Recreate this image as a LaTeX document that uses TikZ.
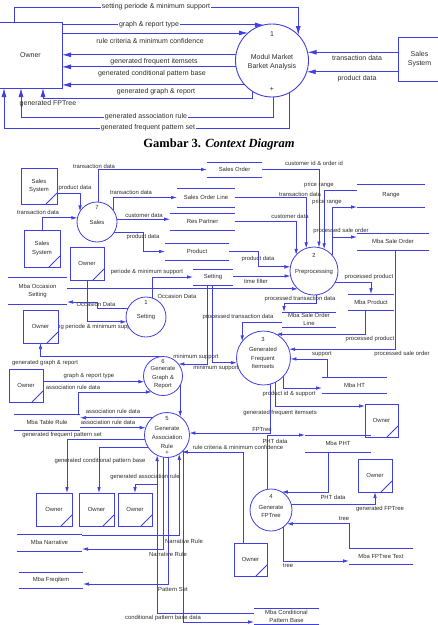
\documentclass[tikz,border=0pt]{standalone}
\usepackage{fontspec}
\setmainfont{Liberation Sans}
\newfontfamily\capfont{Liberation Serif}
\usetikzlibrary{arrows.meta,calc}
\definecolor{dblue}{RGB}{64,64,224}
\definecolor{txt}{RGB}{45,45,45}
\pgfdeclarelayer{bg}
\pgfdeclarelayer{fg}
\pgfsetlayers{bg,main,fg}
\tikzset{
  ln/.style={draw=dblue,line width=0.75pt},
  arr/.style={ln,-{Latex[length=6pt,width=3.6pt]}},
  lnT/.style={draw=dblue,line width=0.9pt},
  arrT/.style={lnT,-{Latex[length=9pt,width=5pt]}},
  fs/.style={font=\fontsize{5.9}{8.5}\selectfont,text=txt},
  fT/.style={font=\fontsize{7}{9}\selectfont,text=txt},
  lbl/.style={fs,inner sep=0pt},
  lblT/.style={fT,inner sep=1pt,fill=white},
  lblTn/.style={fT,inner sep=0pt},
  proc/.style={circle,draw=dblue,line width=0.8pt,fill=white,inner sep=0pt,outer sep=0pt},
  ptxt/.style={fs,align=center,inner sep=0pt},
  boxT/.style={rectangle,draw=dblue,line width=0.9pt,fill=white,fT,align=center,inner sep=0pt,outer sep=0pt},
  ent/.style={rectangle,draw=dblue,line width=0.8pt,fill=white,inner sep=0pt,outer sep=0pt,fs,align=center,
    path picture={\draw[dblue,line width=0.8pt] ([xshift=-11pt]path picture bounding box.south east) -- ([yshift=11pt]path picture bounding box.south east);}},
  store/.style={inner sep=0pt,outer sep=0pt,fs,align=center},
}
\begin{document}
\begin{tikzpicture}[x=1pt,y=-1pt]
\useasboundingbox (0,0) rectangle (438,625);
% ================= TOP DIAGRAM =================
\node[boxT,minimum width=63pt,minimum height=66pt] (owner0) at (30.5,55) {Owner};
\node[proc,line width=0.9pt,minimum size=73pt] (mod) at (272,60.5) {};
\node[lblTn] (modn) at (272,34) {1};
\node[fT,align=center,inner sep=0pt] (modt) at (272,62) {Modul Market\\Barket Analysis};
\node[lblTn] (modp) at (272,89) {+};
\node[boxT,minimum width=43pt,minimum height=44pt] (sales0) at (419.5,59) {Sales\\System};
\begin{pgfonlayer}{bg}
\draw[arrT] ([xshift=-16.5pt]owner0.north) |- (mod.44.6 |- 0,7) -- (mod.44.6);
\draw[arrT] (owner0.east |- mod.103.4) -- (mod.103.4);
\draw[arrT] (owner0.east |- mod.131.1) -- (mod.131.1);
\draw[arrT] (mod.171.3) -- (owner0.east |- mod.171.3);
\draw[arrT] (mod.190.3) -- (owner0.east |- mod.190.3);
\draw[arrT] (mod.222.2) -- (owner0.east |- mod.222.2);
\draw[arrT] (mod.238) -- (mod.238 |- 0,98) -| (owner0.south -| 43,0);
\draw[arrT] (mod.-88) -- (mod.-88 |- 0,117) -| (owner0.south -| 21,0);
\draw[arrT] (mod.-62.2) -- (mod.-62.2 |- 0,128) -| (owner0.south -| 4,0);
\draw[arrT] (sales0.west |- mod.13.5) -- (mod.13.5);
\draw[arrT] (sales0.west |- mod.-18.4) -- (mod.-18.4);
\end{pgfonlayer}
\begin{pgfonlayer}{fg}
\node[lblT] (T1) at (156,7) {setting periode \& minimum support};
\node[lblT] (T2) at (149,25) {graph \& report type};
\node[lblTn] (T3) at (150,41) {rule criteria \& minimum confidence};
\node[lblTn] (T4) at (154,62) {generated frequent itemsets};
\node[lblTn] (T5) at (152,74) {generated conditional pattern base};
\node[lblTn] (T6) at (156,92) {generated graph \& report};
\node[lblTn] (T7) at (48,104) {generated FPTree};
\node[lblT] (T8) at (146,117) {generated association rule};
\node[lblT] (T9) at (148,128) {generated frequent pattern set};
\node[lblTn] (T10) at (357,58) {transaction data};
\node[lblTn] (T11) at (357,79) {product data};
\end{pgfonlayer}
\node[font=\capfont\fontsize{12.5}{14}\selectfont\bfseries,text=black,inner sep=0pt] (cap) at (219,144) {Gambar 3. \textit{Context Diagram}};
% ================= LOWER DIAGRAM =================
% processes
\node[proc,minimum size=40pt] (c7) at (97,222) {};
\node[ptxt] (c7n) at (97,207) {7};
\node[ptxt] (c7t) at (97,222) {Sales};
\node[proc,minimum size=48pt] (c2) at (314,271) {};
\node[ptxt] (c2n) at (314,255) {2};
\node[ptxt] (c2t) at (314,272) {Preprocessing};
\node[proc,minimum size=40pt] (c1) at (146,317) {};
\node[ptxt] (c1n) at (146,302) {1};
\node[ptxt] (c1t) at (146,317) {Setting};
\node[proc,minimum size=39pt] (c6) at (163,376) {};
\node[ptxt] (c6n) at (163,361) {6};
\node[ptxt] (c6t) at (163,378) {Generate\\Graph \&\\Report};
\node[proc,minimum size=54pt] (c3) at (263.5,358) {};
\node[ptxt] (c3n) at (263,339) {3};
\node[ptxt] (c3t) at (263,358) {Generated\\Frequent\\Itemsets};
\node[proc,minimum size=45pt] (c5) at (167,435) {};
\node[ptxt] (c5n) at (167,418) {5};
\node[ptxt,font=\fontsize{5.9}{9}\selectfont] (c5t) at (167,437) {Generate\\Association\\Rule};
\node[ptxt] (c5p) at (167,453) {+};
\node[proc,minimum size=42pt] (c4) at (271,510) {};
\node[ptxt] (c4n) at (271,496) {4};
\node[ptxt,font=\fontsize{5.9}{8}\selectfont] (c4t) at (271,511) {Generate\\FPTree};
% external entities
\node[ent,minimum width=36pt,minimum height=36pt] (ssA) at (39,186) {Sales\\System};
\node[ent,minimum width=36pt,minimum height=37pt] (ssB) at (42,248.5) {Sales\\System};
\node[ent,minimum width=34pt,minimum height=33pt] (ownA) at (87,263.5) {Owner};
\node[ent,minimum width=35pt,minimum height=33pt] (ownB) at (40.5,326.5) {Owner};
\node[ent,minimum width=34pt,minimum height=33pt] (ownC) at (26,385.5) {Owner};
\node[ent,minimum width=33pt,minimum height=33pt] (ownD) at (381.5,420.5) {Owner};
\node[ent,minimum width=34pt,minimum height=33pt] (ownE) at (375,475.5) {Owner};
\node[ent,minimum width=33pt,minimum height=33pt] (ownF) at (250.5,559.5) {Owner};
\node[ent,minimum width=36pt,minimum height=33pt] (ownG1) at (54,509.5) {Owner};
\node[ent,minimum width=35pt,minimum height=33pt] (ownG2) at (96.5,509.5) {Owner};
\node[ent,minimum width=34pt,minimum height=33pt] (ownG3) at (135,509.5) {Owner};
% data stores
\node[store,minimum width=55pt,minimum height=15pt] (sOrder) at (234.5,169.5) {Sales Order};
\node[store,minimum width=58pt,minimum height=19pt] (sOrderLine) at (206,197.5) {Sales Order Line};
\node[store,minimum width=65pt,minimum height=17pt] (sRes) at (202.5,221.5) {Res Partner};
\node[store,minimum width=64pt,minimum height=17pt] (sProduct) at (197,251.5) {Product};
\node[store,minimum width=40pt,minimum height=16pt] (sSetting) at (213,277) {Setting};
\node[store,minimum width=59pt,minimum height=27pt,font=\fontsize{5.9}{8}\selectfont] (sOcc) at (37.5,290.5) {Mba Occasion\\Setting};
\node[store,minimum width=68pt,minimum height=23pt] (sRange) at (391,195.5) {Range};
\node[store,minimum width=72pt,minimum height=17pt] (sMbaSO) at (393,241.5) {Mba Sale Order};
\node[store,minimum width=46pt,minimum height=16pt] (sMbaProd) at (371,302) {Mba Product};
\node[store,minimum width=54pt,minimum height=15pt,font=\fontsize{5.9}{7.5}\selectfont] (sMbaSOL) at (309,319.5) {Mba Sale Order\\Line};
\node[store,minimum width=65pt,minimum height=16pt] (sHT) at (354.5,385) {Mba HT};
\node[store,minimum width=66pt,minimum height=17pt] (sPHT) at (338,443.5) {Mba PHT};
\node[store,minimum width=64pt,minimum height=16pt] (sFPT) at (381,556) {Mba FPTree Text};
\node[store,minimum width=65pt,minimum height=16pt,font=\fontsize{5.9}{8}\selectfont] (sCond) at (286.5,616) {Mba Conditional\\Pattern Base};
\node[store,minimum width=66pt,minimum height=16pt] (sTable) at (47,422) {Mba Table Rule};
\node[store,minimum width=65pt,minimum height=17pt] (sNarr) at (49.5,542.5) {Mba Narrative};
\node[store,minimum width=64pt,minimum height=16pt] (sFreq) at (51,580) {Mba Freqitem};
\foreach \s in {sOrder,sOrderLine,sRes,sProduct,sSetting,sOcc,sRange,sMbaSO,sMbaProd,sMbaSOL,sHT,sPHT,sFPT,sCond,sTable,sNarr,sFreq}
  \draw[ln] (\s.north west) -- (\s.north east) (\s.south west) -- (\s.south east);
% connectors
\begin{pgfonlayer}{bg}
\draw[arr] (ssA.east |- 0,193) -| (c7.148.2);
\draw[arr] (ssB.north) |- (c7.168.5);
\draw[arr] (c7.87) |- (sOrder.west);
\draw[arr] (c7.36.9) |- (sOrderLine.west);
\draw[arr] (c7.8.6) -- (sRes.west |- c7.8.6);
\draw[arr] (c7.-30) -- ($(sProduct.west |- c7.-30)+(-22,0)$) |- (sProduct.west);
\draw[arr] (sOrder.east) -| (c2.78);
\draw[arr] (sOrderLine.east) -| (c2.109.5);
\draw[arr] (sRes.east) -| (c2.138.6);
\draw[arr] (sRange.west |- 0,190) -| (c2.65.4);
\draw[arr] (c2.41.4) |- (sRange.south west);
\draw[arr] (c2.41.4) |- (sMbaSO.west |- 0,237);
\draw[arr] (sProduct.east) -- ++(29,0) |- (c2.170.4);
\draw[arr] (sSetting.east |- c2.192) -- (c2.192);
\draw[arr] (sOcc.east |- c2.228.6) -- (c2.228.6);
\draw[arr] (c2.-27.3) -| (sMbaProd.north);
\draw[arr] (c2.-85) -- (c2.-85 |- 0,303) -| ([xshift=2pt]sMbaSOL.north west);
\draw[arr] (ownA.south) |- (c1.194.5);
\draw[arr] (c1.72.5) |- (sSetting.west);
\draw[arr] (c1.153.3) -- (c1.153.3 -| 97,0) |- (sOcc.east |- 0,302);
\draw[arr] (c6.north) -| (ownB.south);
\draw[arr] (ownC.east |- c6.197.9) -- (c6.197.9);
\draw[arr] ([xshift=-2pt]sTable.north east) |- (c6.235.1);
\draw[arr] (sSetting.south -| 207,0) |- (c6.38);
\draw[arr] (sSetting.south -| 212,0) |- (c3.190.7);
\draw[arr] (c5.54.7 |- c6.-29.3) -- (c5.54.7);
\draw[arr] (sMbaSOL.west |- 0,322) -| (c3.142.8);
\draw[arr] (sMbaProd.south -| 365,0) |- (c3.62.7);
\draw[arr] (sMbaSO.south -| 395,0) |- (c3.19.5);
\draw[arr] (sHT.north -| 327,0) |- (c3.-2.1);
\draw[arr] (c3.-43.8) |- (sHT.west |- 0,388);
\draw[arr] (c3.-64.8) |- (ownD.west |- 0,406);
\draw[arr] (c3.-76.1) |- (c5.5.1);
\draw[arr] (c4.101) |- (sPHT.north west);
\draw[arr] (sPHT.south -| 328,0) |- (c4.59);
\draw[arr] (c4.16.6) -| (ownE.south);
\draw[arr] (sFPT.north west) |- (c4.-41.8);
\draw[arr] (c4.-55.2) |- (sFPT.west |- 0,561);
\draw[arr] (ownF.north -| 243,0) |- (c5.-49.1);
\draw[arr] (c5.130.9) -- (sTable.east |- c5.130.9);
\draw[arr] (sTable.east |- c5.161.9) -- (c5.161.9);
\draw[arr] (c5.192.8) -| (ownG1.north -| 67,0);
\draw[arr] (c5.212.2) -| (ownG2.north -| 99,0);
\draw[arr] (c5.-116.4 |- 0,484) -| (ownG3.north);
\draw[arr] (sCond.west |- 0,613) -| (c5.-116.4);
\draw[arr] (c5.-44.7) |- (sCond.west |- 0,622);
\draw[arr] (sNarr.east |- 0,535) -| (c5.-57.8);
\draw[arr] (c5.-100.2) |- (sNarr.east |- 0,549);
\draw[arr] (c5.-87.5) |- (sFreq.east |- 0,584);
\node[lbl] (Lr) at (92,327) {setting periode \& minimum support};
\end{pgfonlayer}
% connector labels
\begin{pgfonlayer}{fg}
\node[lbl] (La) at (75,188) {product data};
\node[lbl] (Lb) at (38,212) {transaction data};
\node[lbl] (Lc) at (94,166) {transaction data};
\node[lbl] (Ld) at (131,192) {transaction data};
\node[lbl] (Le) at (144,215.5) {customer data};
\node[lbl] (Lf) at (143,237) {product data};
\node[lbl] (Lg) at (314,163) {customer id \& order id};
\node[lbl] (Lh) at (300,194) {transaction data};
\node[lbl] (Li) at (290,216) {customer data};
\node[lbl] (Lj) at (319,185) {price range};
\node[lbl] (Lk) at (327,202) {price range};
\node[lbl] (Ll) at (341,231) {processed sale order};
\node[lbl] (Lm) at (258,259) {product data};
\node[lbl] (Ln) at (256,281) {time filter};
\node[lbl] (Lo) at (177,296) {Occasion Data};
\node[lbl] (Lp) at (369,277) {processed product};
\node[lbl] (Lq) at (300,299) {processed transaction data};
\node[lbl] (Ls) at (147,272) {periode \& minimum support};
\node[lbl] (Lt) at (96,304.5) {Occasion Data};
\node[lbl] (Lu) at (45,363) {generated graph \& report};
\node[lbl] (Lv) at (89,376) {graph \& report type};
\node[lbl] (Lw) at (73,387) {association rule data};
\node[lbl] (Lx) at (196,357) {minimum support};
\node[lbl] (Ly) at (216,368) {minimum support};
\node[lbl] (Laa) at (238,317) {processed transaction data};
\node[lbl] (Lbb) at (370,339) {processed product};
\node[lbl] (Lcc) at (402,354) {processed sale order};
\node[lbl] (Ldd) at (322,354) {support};
\node[lbl] (Lee) at (289,394) {product id \& support};
\node[lbl] (Lff) at (280,413) {generated frequent itemsets};
\node[lbl] (Lgg) at (262,429) {FPTree};
\node[lbl] (Lhh) at (275,441) {PHT data};
\node[lbl] (Lii) at (333,497) {PHT data};
\node[lbl] (Ljj) at (380,509) {generated FPTree};
\node[lbl] (Lkk) at (344,519) {tree};
\node[lbl] (Lll) at (288,566) {tree};
\node[lbl] (Lmm) at (238,447) {rule criteria \& minimum confidence};
\node[lbl] (Lnn) at (113,411) {association rule data};
\node[lbl] (Loo) at (108,422) {association rule data};
\node[lbl] (Lpp) at (62,435) {generated frequent pattern set};
\node[lbl] (Lqq) at (100,461) {generated conditional pattern base};
\node[lbl] (Lrr) at (145,477) {generated association rule};
\node[lbl] (Ltt) at (163,618) {conditional pattern base data};
\node[lbl] (Luu) at (184,541) {Narrative Rule};
\node[lbl] (Lvv) at (168,554) {Narrative Rule};
\node[lbl] (Lww) at (173,589) {Pattern Set};
\end{pgfonlayer}
\end{tikzpicture}
\end{document}
